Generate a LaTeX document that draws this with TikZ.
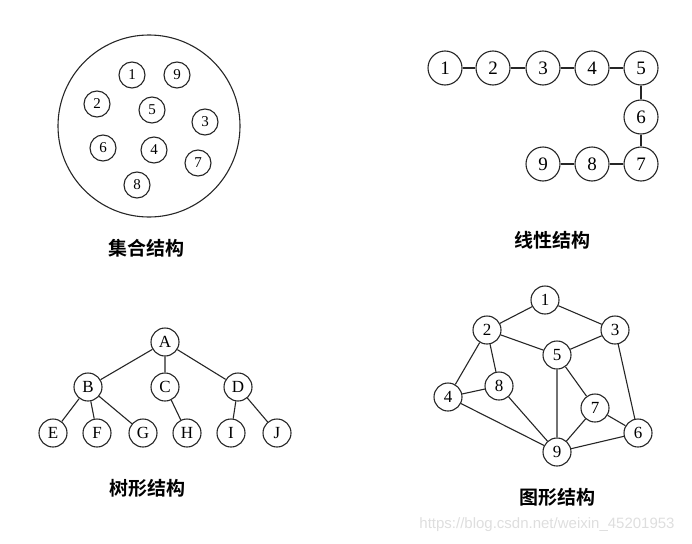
\documentclass[tikz,border=0pt]{standalone}
\usepackage{fontspec}
\setmainfont{Liberation Serif}
\newfontfamily\cjk{Noto Sans CJK SC}[BoldFont={* Bold}]
\newfontfamily\wmfont{Liberation Sans}
\begin{document}
\begin{tikzpicture}[x=1pt,y=-1pt,
  nd/.style={circle,draw=black!85,line width=1.1pt,inner sep=0pt,fill=white},
  setn/.style={nd,minimum size=26pt,font=\fontsize{15}{15}\selectfont},
  linn/.style={nd,minimum size=34pt,font=\fontsize{19}{19}\selectfont},
  tren/.style={nd,minimum size=28pt,font=\fontsize{17}{17}\selectfont},
  grn/.style={nd,minimum size=28pt,font=\fontsize{17}{17}\selectfont},
  captxt/.style={font=\cjk\bfseries\fontsize{19}{19}\selectfont},
  lnk/.style={draw=black!85,line width=1.1pt}]
\useasboundingbox (0,0) rectangle (692,543);
% set structure
\node[circle,draw=black!85,line width=1.1pt,minimum width=182pt,inner sep=0pt] (big) at (149,126) {};
\node[setn] (s1) at (132,75) {1};
\node[setn] (s9) at (177,75) {9};
\node[setn] (s2) at (97,104) {2};
\node[setn] (s5) at (152,110) {5};
\node[setn] (s3) at (205,122) {3};
\node[setn] (s6) at (103,148) {6};
\node[setn] (s4) at (154,150) {4};
\node[setn] (s7) at (198,163) {7};
\node[setn] (s8) at (137,185) {8};
\node[captxt] (c1) at (146,248) {集合结构};
% linear structure
\node[linn] (l1) at (445,68) {1};
\node[linn] (l2) at (493,68) {2};
\node[linn] (l3) at (543,68) {3};
\node[linn] (l4) at (592,68) {4};
\node[linn] (l5) at (641,68) {5};
\node[linn] (l6) at (641,117) {6};
\node[linn] (l7) at (641,164) {7};
\node[linn] (l8) at (592,164) {8};
\node[linn] (l9) at (543,164) {9};
\draw[lnk] (l1)--(l2) (l2)--(l3) (l3)--(l4) (l4)--(l5) (l5)--(l6) (l6)--(l7) (l7)--(l8) (l8)--(l9);
\node[captxt] (c2) at (552,240) {线性结构};
% tree structure
\node[tren] (A) at (165,342) {A};
\node[tren] (B) at (88,387) {B};
\node[tren] (C) at (165,387) {C};
\node[tren] (D) at (238,387) {D};
\node[tren] (E) at (53,433) {E};
\node[tren] (F) at (97,433) {F};
\node[tren] (G) at (143,433) {G};
\node[tren] (H) at (187,433) {H};
\node[tren] (I) at (231,433) {I};
\node[tren] (J) at (277,433) {J};
\draw[lnk] (A)--(B) (A)--(C) (A)--(D) (B)--(E) (B)--(F) (B)--(G) (C)--(H) (D)--(I) (D)--(J);
\node[captxt] (c3) at (147,488) {树形结构};
% graph structure
\node[grn] (g1) at (545,300) {1};
\node[grn] (g2) at (487,330) {2};
\node[grn] (g3) at (615,330) {3};
\node[grn] (g5) at (557,355) {5};
\node[grn] (g8) at (499,386) {8};
\node[grn] (g4) at (448,397) {4};
\node[grn] (g7) at (595,408) {7};
\node[grn] (g6) at (638,433) {6};
\node[grn] (g9) at (557,452) {9};
\draw[lnk] (g1)--(g2) (g1)--(g3) (g2)--(g5) (g3)--(g5) (g2)--(g4) (g2)--(g8) (g4)--(g8)
  (g4)--(g9) (g8)--(g9) (g5)--(g9) (g5)--(g7) (g7)--(g9) (g7)--(g6) (g3)--(g6) (g9)--(g6);
\node[captxt] (c4) at (557,497) {图形结构};
% watermark
\node[text=black!13,font=\wmfont\fontsize{15}{15}\selectfont] (wm) at (547,525) {https://blog.csdn.net/weixin\_45201953};
\end{tikzpicture}
\end{document}
